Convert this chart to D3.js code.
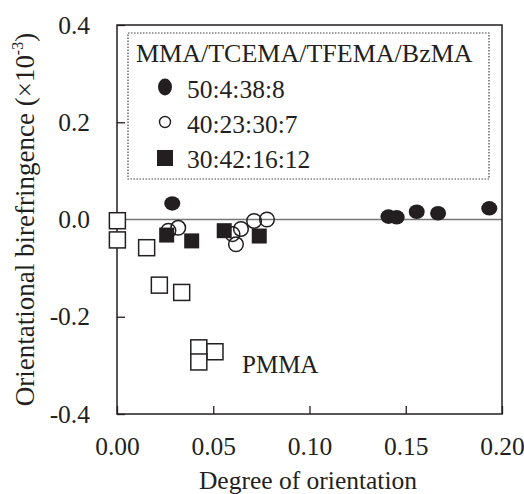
<html>
<head>
<script src="https://d3js.org/d3.v7.min.js"></script>
<style>
  body { margin: 0; background: #fff; }
  text { font-family: "Liberation Serif", "Times New Roman", serif; fill: #231f20; }
</style>
</head>
<body>
<div id="chart"></div>
<script>

// chart data
var xTicks = [0.00, 0.05, 0.10, 0.15, 0.20]
var yTicks = [-0.4, -0.2, 0.0, 0.2, 0.4]

var series_names = ["50:4:38:8", "40:23:30:7", "30:42:16:12"]

var s1_x = [0.0287, 0.141, 0.1453, 0.1557, 0.1668, 0.1934]
var s1_y = [0.033, 0.006, 0.0045, 0.016, 0.0128, 0.023]

var s2_x = [0.0267, 0.0318, 0.060, 0.0618, 0.0644, 0.0712, 0.0779]
var s2_y = [-0.023, -0.017, -0.030, -0.051, -0.0195, -0.003, 0.000]

var s3_x = [0.0258, 0.0388, 0.0557, 0.0739]
var s3_y = [-0.032, -0.044, -0.023, -0.034]

var pmma_x = [0.0002, 0.0002, 0.0154, 0.022, 0.0336, 0.0425, 0.0509, 0.0425]
var pmma_y = [-0.0025, -0.042, -0.058, -0.135, -0.150, -0.264, -0.272, -0.293]

//Svg Dimensions
var svg_width = 524
var svg_height = 494

var plot_left = 117, plot_right = 502, plot_top = 25, plot_bottom = 414

var svg = d3.select("#chart").append("svg")
  .attr("width", svg_width)
  .attr("height", svg_height)

var x = d3.scaleLinear().domain([0, 0.2]).range([plot_left, plot_right])
var y = d3.scaleLinear().domain([-0.4, 0.4]).range([plot_bottom, plot_top])

var ink = "#231f20"
var serif = "'Liberation Serif', 'Times New Roman', serif"

// zero line
svg.append("line")
  .attr("x1", plot_left).attr("x2", plot_right)
  .attr("y1", y(0)).attr("y2", y(0))
  .style("stroke", "#777")
  .style("stroke-width", 1.3)

// axes with inward ticks
svg.append("g")
  .attr("transform", "translate(" + plot_left + ",0)")
  .call(d3.axisLeft(y).tickValues(yTicks).tickSize(-8).tickPadding(27)
    .tickFormat(function(d) { return d.toFixed(1) }))

svg.append("g")
  .attr("transform", "translate(0," + plot_bottom + ")")
  .call(d3.axisBottom(x).tickValues(xTicks).tickSize(-8).tickPadding(23)
    .tickFormat(function(d) { return d.toFixed(2) }))

svg.selectAll(".domain").remove()
svg.selectAll(".tick line").style("stroke", ink).style("stroke-width", 1.3)
svg.selectAll(".tick text")
  .style("font-family", serif)
  .style("font-size", "25.5px")
  .style("fill", ink)

// frame
svg.append("rect")
  .attr("x", plot_left).attr("y", plot_top)
  .attr("width", plot_right - plot_left).attr("height", plot_bottom - plot_top)
  .style("fill", "none")
  .style("stroke", ink)
  .style("stroke-width", 1.5)

// axis titles
svg.append("text")
  .attr("x", 308)
  .attr("y", 489)
  .attr("text-anchor", "middle")
  .attr("font-size", 25.5)
  .text("Degree of orientation")

var yt = svg.append("text")
  .attr("transform", "translate(34," + (plot_top + plot_bottom) / 2 + ") rotate(-90)")
  .attr("text-anchor", "middle")
  .attr("font-size", 27)
yt.append("tspan").text("Orientational birefringence (\u00d710")
yt.append("tspan").attr("dy", -11).attr("font-size", 16).text("-3")
yt.append("tspan").attr("dy", 11).text(")")

// markers
var pts = function(xs, ys) { return xs.map(function(v, i) { return [v, ys[i]] }) }

svg.append("g").selectAll("rect")
  .data(pts(pmma_x, pmma_y)).enter().append("rect")
  .attr("x", function(d) { return x(d[0]) - 8 })
  .attr("y", function(d) { return y(d[1]) - 8 })
  .attr("width", 16).attr("height", 16)
  .style("fill", "white").style("stroke", ink).style("stroke-width", 1.5)

svg.append("g").selectAll("rect")
  .data(pts(s3_x, s3_y)).enter().append("rect")
  .attr("x", function(d) { return x(d[0]) - 7.5 })
  .attr("y", function(d) { return y(d[1]) - 7.5 })
  .attr("width", 15).attr("height", 15)
  .style("fill", ink)

svg.append("g").selectAll("circle")
  .data(pts(s2_x, s2_y)).enter().append("circle")
  .attr("cx", function(d) { return x(d[0]) })
  .attr("cy", function(d) { return y(d[1]) })
  .attr("r", 7.3)
  .style("fill", "none").style("stroke", ink).style("stroke-width", 1.5)

svg.append("g").selectAll("ellipse")
  .data(pts(s1_x, s1_y)).enter().append("ellipse")
  .attr("cx", function(d) { return x(d[0]) })
  .attr("cy", function(d) { return y(d[1]) })
  .attr("rx", 8).attr("ry", 7.3)
  .style("fill", ink)

svg.append("text")
  .attr("x", 242).attr("y", 373)
  .attr("font-size", 25)
  .text("PMMA")

// legend
svg.append("rect")
  .attr("x", 128).attr("y", 33)
  .attr("width", 361).attr("height", 146)
  .style("fill", "white")
  .style("stroke", "#444")
  .style("stroke-width", 1.2)
  .style("stroke-dasharray", "1.5,1.5")

svg.append("text")
  .attr("x", 136).attr("y", 62)
  .attr("font-size", 26)
  .text("MMA/TCEMA/TFEMA/BzMA")

var rows = [98, 133, 168]
var lg = svg.append("g")

lg.append("ellipse").attr("cx", 165).attr("cy", 87).attr("rx", 7).attr("ry", 8.5).style("fill", ink)
lg.append("circle").attr("cx", 165).attr("cy", 122).attr("r", 5.5)
  .style("fill", "none").style("stroke", ink).style("stroke-width", 1.4)
lg.append("rect").attr("x", 157).attr("y", 150).attr("width", 16).attr("height", 16).style("fill", ink)

lg.selectAll("text.lab")
  .data(series_names).enter().append("text")
  .attr("class", "lab")
  .attr("x", 187)
  .attr("y", function(d, i) { return rows[i] })
  .attr("font-size", 25.5)
  .text(function(d) { return d })

</script>
</body>
</html>
